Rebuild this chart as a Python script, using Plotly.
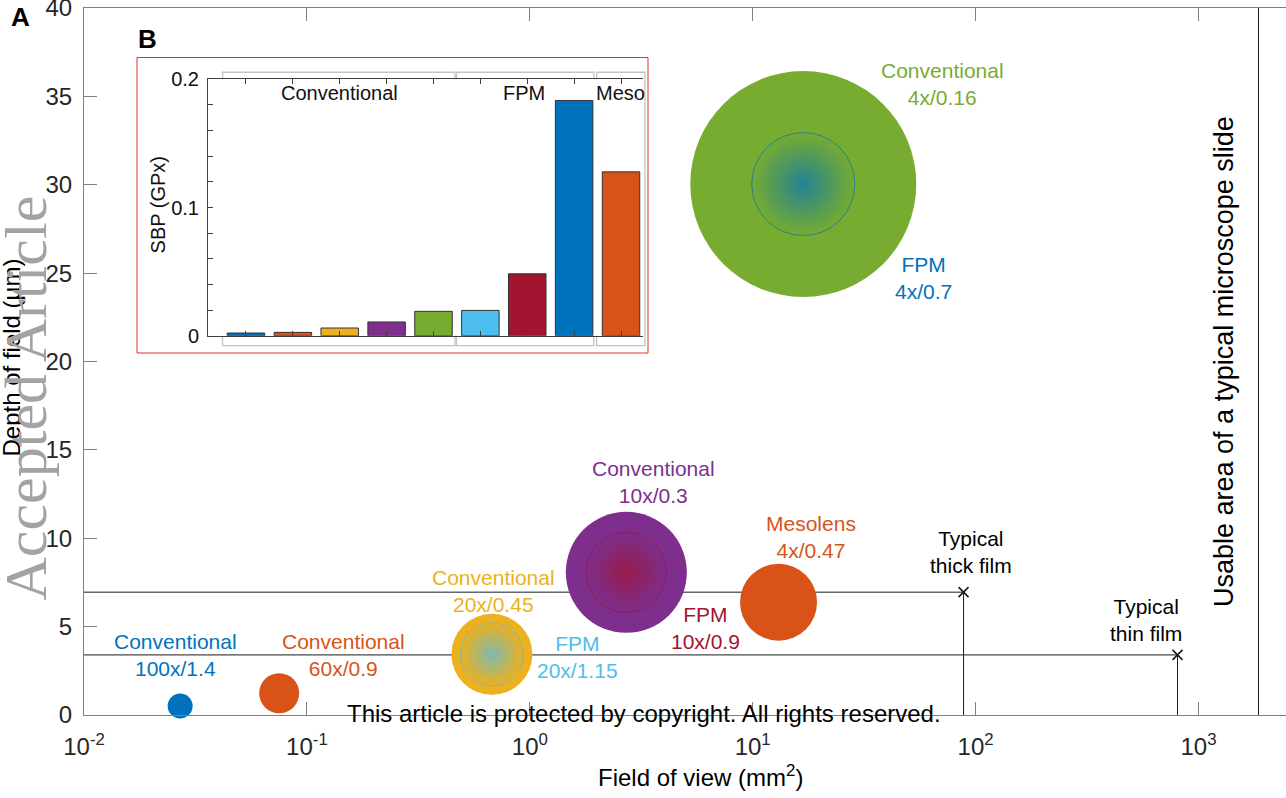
import math
import plotly.graph_objects as go

# ---------------- Panel A: field of view vs depth of field ----------------
# conventional objectives / Mesolens (outer discs)
sys_names = ["Conventional 100x/1.4", "Conventional 60x/0.9", "Conventional 20x/0.45",
             "Conventional 10x/0.3", "Mesolens 4x/0.47", "Conventional 4x/0.16"]
fov_mm2 = [0.0270, 0.0751, 0.676, 2.71, 13.06, 16.86]
dof_um = [0.51, 1.23, 3.43, 8.07, 6.38, 30.04]
disc_px = [25, 40, 81, 121, 77, 226]
disc_colors = ["#0072BD", "#D95319", "#EDB120", "#7E2F8E", "#D95319", "#77AC30"]

# FPM counterparts, drawn concentric with the objective they are built on
fpm_names = ["FPM 20x/1.15", "FPM 10x/0.9", "FPM 4x/0.7"]
fpm_fov = [0.676, 2.71, 16.86]
fpm_dof = [3.43, 8.07, 30.04]
fpm_px = [63, 80, 103]
fpm_edge = ["#EDB120", "#7E2F8E", "#77AC30"]
fpm_core = ["#4DBEEE", "#A2142F", "#0072BD"]

# reference samples
thick_film = (88.3, 6.95)
thin_film = (805.0, 3.40)
slide_area = 1858.0

# text labels: (text, fov, dof, colour)
labels = [
    ("Conventional<br>100x/1.4", 0.02565, 3.39, "#0072BD"),
    ("Conventional<br>60x/0.9", 0.1456, 3.39, "#D95319"),
    ("Conventional<br>20x/0.45", 0.686, 6.99, "#EDB120"),
    ("FPM<br>20x/1.15", 1.64, 3.31, "#4DBEEE"),
    ("Conventional<br>10x/0.3", 3.58, 13.21, "#7E2F8E"),
    ("FPM<br>10x/0.9", 6.12, 4.92, "#A2142F"),
    ("Mesolens<br>4x/0.47", 18.3, 10.07, "#D95319"),
    ("Conventional<br>4x/0.16", 71.4, 35.7, "#77AC30"),
    ("FPM<br>4x/0.7", 58.2, 24.72, "#0072BD"),
    ("Typical<br>thick film", 95.5, 9.25, "#000000"),
    ("Typical<br>thin film", 582.0, 5.37, "#000000"),
]

x_tickvals = [0.01, 0.1, 1, 10, 100, 1000]
x_ticktext = ["10<sup>-2</sup>", "10<sup>-1</sup>", "10<sup>0</sup>",
              "10<sup>1</sup>", "10<sup>2</sup>", "10<sup>3</sup>"]
y_tickvals = [0, 5, 10, 15, 20, 25, 30, 35, 40]

# ---------------- Panel B: space-bandwidth product ----------------
sbp_index = [1, 2, 3, 4, 5, 6, 7, 8, 9]
sbp_gpx = [0.0021, 0.0026, 0.0060, 0.0107, 0.0190, 0.0197, 0.0483, 0.1835, 0.1278]
sbp_colors = ["#0072BD", "#D95319", "#EDB120", "#7E2F8E", "#77AC30",
              "#4DBEEE", "#A2142F", "#0072BD", "#D95319"]
groups = ["Conventional", "FPM", "Meso"]
group_spans = [(0.5, 5.46), (5.49, 8.42), (8.48, 9.51)]
group_label_x = [3.0, 6.93, 8.98]

# ---------------- layout geometry ----------------
W, H = 1286, 798
ML, MR, MT, MB = 84, 0, 8, 83
PW, PH = W - ML - MR, H - MT - MB
FONT = "Liberation Sans, Arial, sans-serif"
AXIS_GREY = "#808080"
INK = "#262626"


def px_x(px):
    return (px - ML) / PW


def px_y(py):
    return (H - MB - py) / PH


def paper_text(text, px, py, size, color="#000000", angle=0, family=FONT):
    return dict(x=px_x(px), y=px_y(py), xref="paper", yref="paper", text=text,
                textangle=angle, showarrow=False, xanchor="center", yanchor="middle",
                font=dict(family=family, size=size, color=color))


inset_x_range = [0.19, 9.469]
inset_y_range = [0, 0.2]

fig = go.Figure()

# guide lines for the film samples and the slide area
for fx, fy in (thick_film, thin_film):
    fig.add_trace(go.Scatter(x=[0.01, fx, fx], y=[fy, fy, 0], mode="lines",
                             line=dict(color="#1a1a1a", width=1),
                             hoverinfo="skip", showlegend=False, cliponaxis=False))
fig.add_trace(go.Scatter(x=[slide_area, slide_area], y=[0, 40], mode="lines",
                         line=dict(color="#1a1a1a", width=1),
                         hoverinfo="skip", showlegend=False))

# objective discs
fig.add_trace(go.Scatter(
    x=fov_mm2, y=dof_um, mode="markers", text=sys_names, showlegend=False,
    marker=dict(size=disc_px, color=disc_colors, opacity=1, line=dict(width=0)),
    cliponaxis=False))

# FPM discs with radial shading
fig.add_trace(go.Scatter(
    x=fpm_fov, y=fpm_dof, mode="markers", text=fpm_names, showlegend=False,
    marker=dict(size=fpm_px, color=fpm_edge,
                gradient=dict(type="radial", color=fpm_core),
                line=dict(color=fpm_core, width=1)),
    cliponaxis=False))

# sample markers
fig.add_trace(go.Scatter(
    x=[thick_film[0], thin_film[0]], y=[thick_film[1], thin_film[1]], mode="markers",
    marker=dict(symbol="x-thin", size=10, line=dict(color="#1a1a1a", width=1.6)),
    showlegend=False, cliponaxis=False))

# inset bars
fig.add_trace(go.Bar(
    x=sbp_index, y=sbp_gpx, width=0.8, xaxis="x2", yaxis="y2", showlegend=False,
    marker=dict(color=sbp_colors, line=dict(color="#333333", width=1))))

annotations = []
for text, fx, fy, col in labels:
    annotations.append(dict(x=math.log10(fx), y=fy, xref="x", yref="y", text=text,
                            showarrow=False, font=dict(family=FONT, size=21, color=col),
                            xanchor="center", yanchor="middle"))

for name, gx in zip(groups, group_label_x):
    annotations.append(dict(x=gx, y=0.1896, xref="x2", yref="y2", text=name,
                            showarrow=False, font=dict(family=FONT, size=20, color="#111111"),
                            xanchor="center", yanchor="middle"))

annotations += [
    paper_text("SBP (GPx)", 157.6, 204.8, 20, "#111111", -90),
    paper_text("Depth of field (\u03bcm)", 11, 357.5, 24, "#000000", -90),
    paper_text("Field of view (mm<sup>2</sup>)", 700, 776, 24),
    paper_text("Usable area of a typical microscope slide", 1224, 362, 27, "#000000", -90),
    paper_text("<b>A</b>", 20, 17, 26),
    paper_text("<b>B</b>", 147, 39, 26),
    paper_text("Accepted Article", 26, 398.5, 60, "#a3a3a3", -90,
               family="Liberation Serif, Times New Roman, serif"),
    paper_text("This article is protected by copyright. All rights reserved.", 644, 713, 24),
]

# inset frame and group boxes
shapes = [dict(type="rect", xref="paper", yref="paper",
               x0=px_x(137), x1=px_x(648), y0=px_y(353), y1=px_y(57.5),
               line=dict(color="#e8302a", width=1), fillcolor="rgba(0,0,0,0)", layer="above")]
xr = inset_x_range[1] - inset_x_range[0]
for g0, g1 in group_spans:
    shapes.append(dict(type="rect", xref="x2 domain", yref="y2 domain",
                       x0=(g0 - inset_x_range[0]) / xr, x1=(g1 - inset_x_range[0]) / xr,
                       y0=-0.0078 / 0.2, y1=0.2055 / 0.2,
                       line=dict(color="#c4c4c4", width=1.3), fillcolor="rgba(0,0,0,0)",
                       layer="below"))

fig.update_layout(
    width=W, height=H, margin=dict(l=ML, r=MR, t=MT, b=MB, autoexpand=False),
    paper_bgcolor="white", plot_bgcolor="white",
    font=dict(family=FONT, color=INK),
    xaxis=dict(type="log", range=[-2, -2 + PW / 222.9], domain=[0, 1],
               tickvals=x_tickvals, ticktext=x_ticktext,
               ticks="inside", ticklen=13, tickwidth=1, tickcolor=AXIS_GREY,
               showline=True, linecolor=AXIS_GREY, linewidth=1, mirror="ticks",
               showgrid=False, zeroline=False, ticklabelstandoff=10,
               ticklabeloverflow="allow", automargin=False,
               tickfont=dict(family=FONT, size=24, color=INK)),
    yaxis=dict(range=[0, 40], tickvals=y_tickvals, domain=[0, 1],
               ticks="inside", ticklen=13, tickwidth=1, tickcolor=AXIS_GREY,
               showline=True, linecolor=AXIS_GREY, linewidth=1, mirror=False,
               showgrid=False, zeroline=False, ticklabelstandoff=6,
               ticklabeloverflow="allow", automargin=False,
               tickfont=dict(family=FONT, size=24, color=INK)),
    xaxis2=dict(domain=[px_x(208), px_x(643)], anchor="y2", range=inset_x_range,
                tickvals=sbp_index, showticklabels=False,
                ticks="inside", ticklen=5, tickcolor="#404040",
                showline=True, linecolor="#404040", linewidth=1, mirror="ticks",
                showgrid=False, zeroline=False, automargin=False),
    yaxis2=dict(domain=[px_y(335.7), px_y(79.3)], anchor="x2", range=inset_y_range,
                tickvals=[0, 0.1, 0.2], ticktext=["0", "0.1", "0.2"],
                ticks="inside", ticklen=5, tickcolor="#404040",
                minor=dict(dtick=0.02, ticks="inside", ticklen=5, tickcolor="#404040"),
                showline=True, linecolor="#404040", linewidth=1,
                showgrid=False, zeroline=False, ticklabelstandoff=4,
                ticklabeloverflow="allow", automargin=False,
                tickfont=dict(family=FONT, size=20, color="#111111")),
    annotations=annotations, shapes=shapes, bargap=0.2,
)

fig.write_html("out.html")
